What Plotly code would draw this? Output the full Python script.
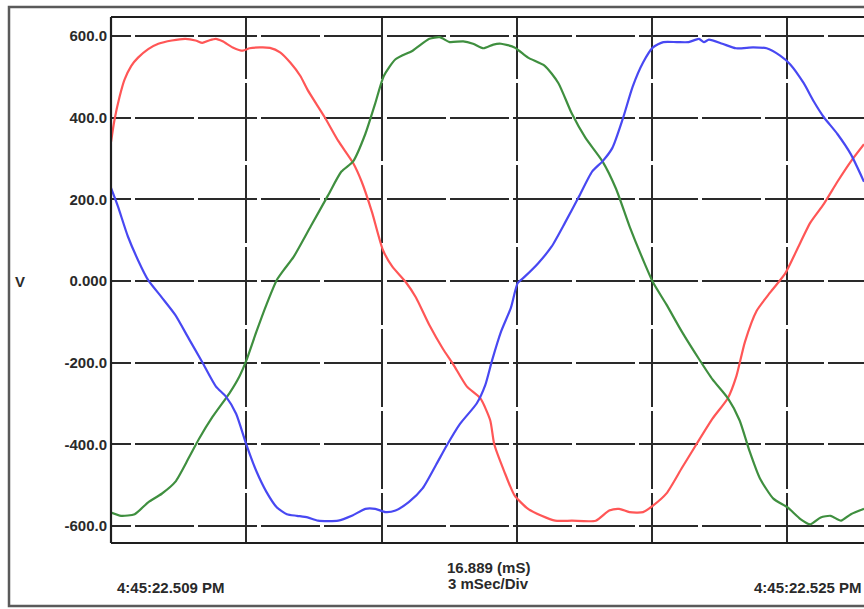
import plotly.graph_objects as go

# Three-phase voltage capture, time in ms from the left edge of the window
t_red = [0.0, 0.075, 0.19, 0.3, 0.45, 0.6, 0.825, 1.05, 1.35, 1.65, 1.875, 2.025, 2.175, 2.325,
         2.475, 2.7, 2.925, 3.075, 3.3, 3.525, 3.75, 3.975, 4.2, 4.36, 4.74, 5.04, 5.37, 5.56,
         5.79, 6.03, 6.24, 6.54, 6.76, 7.06, 7.36, 7.59, 7.89, 8.19, 8.41, 8.5, 8.72, 8.95, 9.25,
         9.55, 9.85, 10.22, 10.75, 11.05, 11.27, 11.5, 11.8, 12.02, 12.32, 12.66, 12.96, 13.34,
         13.68, 13.87, 14.06, 14.32, 14.62, 14.95, 15.21, 15.51, 15.81, 16.11, 16.41, 16.70]
v_red = [340, 393, 451, 493, 527, 547, 568, 581, 589, 593, 589, 583, 589, 593,
         587, 572, 564, 570, 572, 571, 560, 535, 502, 468, 401, 343, 289, 243,
         168, 76, 35, -3, -40, -108, -166, -204, -258, -287, -341, -400, -466, -525, -558,
         -575, -587, -587, -587, -562, -558, -566, -566, -550, -520, -458, -404, -337,
         -287, -233, -149, -73, -28, 18, 76, 143, 189, 243, 293, 335]

t_blue = [0.0, 0.15, 0.375, 0.6, 0.825, 1.125, 1.425, 1.725, 2.025, 2.325, 2.55, 2.775, 3.0,
          3.225, 3.45, 3.675, 3.9, 4.125, 4.36, 4.59, 5.04, 5.34, 5.64, 5.86, 6.09, 6.31, 6.61,
          6.91, 7.21, 7.44, 7.74, 8.11, 8.3, 8.45, 8.65, 8.87, 9.02, 9.17, 9.47, 9.77, 10.07,
          10.37, 10.67, 10.9, 11.12, 11.35, 11.57, 11.8, 12.02, 12.25, 12.55, 12.81, 13.04,
          13.15, 13.26, 13.56, 13.86, 14.24, 14.54, 14.84, 15.06, 15.36, 15.59, 15.81, 16.11,
          16.41, 16.70]
v_blue = [228, 184, 109, 51, 2, -40, -83, -141, -199, -258, -283, -325, -400,
          -466, -517, -554, -571, -575, -579, -587, -587, -575, -558, -558, -566, -562, -541,
          -508, -450, -404, -350, -300, -255, -195, -124, -65, -5, 10, 43, 84, 143,
          205, 268, 293, 326, 397, 476, 535, 572, 585, 585, 585, 593,
          585, 591, 581, 570, 572, 570, 552, 531, 485, 439, 401, 360,
          310, 243]

t_green = [0.0, 0.225, 0.525, 0.825, 1.125, 1.425, 1.725, 1.95, 2.25, 2.625, 2.85, 3.0, 3.225,
           3.45, 3.675, 3.825, 4.05, 4.43, 4.81, 5.11, 5.37, 5.64, 5.86, 6.05, 6.31, 6.69, 7.06,
           7.29, 7.51, 7.81, 8.03, 8.26, 8.48, 8.65, 8.95, 9.25, 9.62, 9.92, 10.22, 10.52, 10.9,
           11.2, 11.5, 11.8, 12.02, 12.32, 12.66, 13.04, 13.34, 13.68, 13.94, 14.16, 14.39,
           14.69, 15.0, 15.29, 15.51, 15.74, 15.96, 16.19, 16.41, 16.70]
v_green = [-567, -575, -571, -542, -521, -492, -433, -387, -333, -275, -233, -195, -124,
           -57, 2, 26, 59, 134, 209, 268, 293, 360, 435, 502, 543, 564, 593,
           597, 585, 587, 581, 570, 579, 581, 572, 547, 527, 485, 410, 351, 293,
           226, 134, 52, -3, -58, -124, -191, -241, -287, -341, -416, -483,
           -533, -554, -583, -596, -579, -575, -587, -571, -558]

y_ticks = [600, 400, 200, 0, -200, -400, -600]
y_tick_text = ["600.0", "400.0", "200.0", "0.000", "-200.0", "-400.0", "-600.0"]
x_grid = [3, 6, 9, 12, 15]

start_label = "4:45:22.509 PM"
end_label = "4:45:22.525 PM"
span_label = "16.889 (mS)"
div_label = "3 mSec/Div"
unit_label = "V"

W, H = 864, 609
L, R, T, B = 111, 0, 17, 66
PW, PH = W - L - R, H - T - B

def px(x):
    return (x - L) / PW

def py(y):
    return (H - B - y) / PH

fig = go.Figure()
for t, v, c in [(t_red, v_red, "#ff5656"), (t_green, v_green, "#3f8f3f"), (t_blue, v_blue, "#4848f2")]:
    fig.add_trace(go.Scatter(x=t, y=v, mode="lines",
                             line=dict(color=c, width=2.2, shape="spline", smoothing=0.6),
                             hoverinfo="skip", showlegend=False))

h_dash = "20px,4px," + ",".join(["59px,4px"] * 13)
v_dash = "62px,4px," + ",".join(["78px,4px"] * 7)

fig.update_xaxes(range=[0, 16.70], tickvals=x_grid, showticklabels=False, ticks="",
                 showgrid=True, gridcolor="#2a2a2a", gridwidth=2.4, griddash=v_dash,
                 zeroline=False, showline=False, fixedrange=True)
fig.update_yaxes(range=[-641.6, 646.5], tickvals=y_ticks, ticktext=y_tick_text, ticks="",
                 showgrid=True, gridcolor="#2a2a2a", gridwidth=2.4, griddash=h_dash,
                 zeroline=False, showline=False, fixedrange=True,
                 tickfont=dict(family="Liberation Sans, Arial", size=15, color="#2a2a2a",
                               weight="bold"),
                 ticklabelstandoff=3)

shapes = [
    # outer panel border
    dict(type="rect", xref="paper", yref="paper", x0=px(9), x1=px(880), y0=py(606), y1=py(7),
         line=dict(color="#5a5a5a", width=2.5), layer="below"),
    # plot frame: left, top, bottom edges
    dict(type="line", xref="paper", yref="paper", x0=0, x1=0, y0=0, y1=1,
         line=dict(color="#1e1e1e", width=2.2)),
    dict(type="line", xref="paper", yref="paper", x0=0, x1=1.01, y0=1, y1=1,
         line=dict(color="#1e1e1e", width=2.2)),
    dict(type="line", xref="paper", yref="paper", x0=0, x1=1.01, y0=0, y1=0,
         line=dict(color="#1e1e1e", width=2.2)),
]

txt = dict(family="Liberation Sans, Arial", size=15, color="#2a2a2a")
annotations = [
    dict(text=f"<b>{unit_label}</b>", x=px(20), y=py(281), xref="paper", yref="paper",
         showarrow=False, font=txt, xanchor="center", yanchor="middle"),
    dict(text=f"<b>{start_label}</b>", x=px(171), y=py(587), xref="paper", yref="paper",
         showarrow=False, font=txt, xanchor="center", yanchor="middle"),
    dict(text=f"<b>{end_label}</b>", x=px(864), y=py(587), xref="paper", yref="paper",
         showarrow=False, font=txt, xanchor="right", yanchor="middle"),
    dict(text=f"<b>{span_label}</b>", x=px(488), y=py(567), xref="paper", yref="paper",
         showarrow=False, font=txt, xanchor="center", yanchor="middle"),
    dict(text=f"<b>{div_label}</b>", x=px(488), y=py(583), xref="paper", yref="paper",
         showarrow=False, font=txt, xanchor="center", yanchor="middle"),
]

fig.update_layout(width=W, height=H, margin=dict(l=L, r=R, t=T, b=B),
                  paper_bgcolor="white", plot_bgcolor="white",
                  shapes=shapes, annotations=annotations)

fig.write_html("out.html", config={"displayModeBar": False})
